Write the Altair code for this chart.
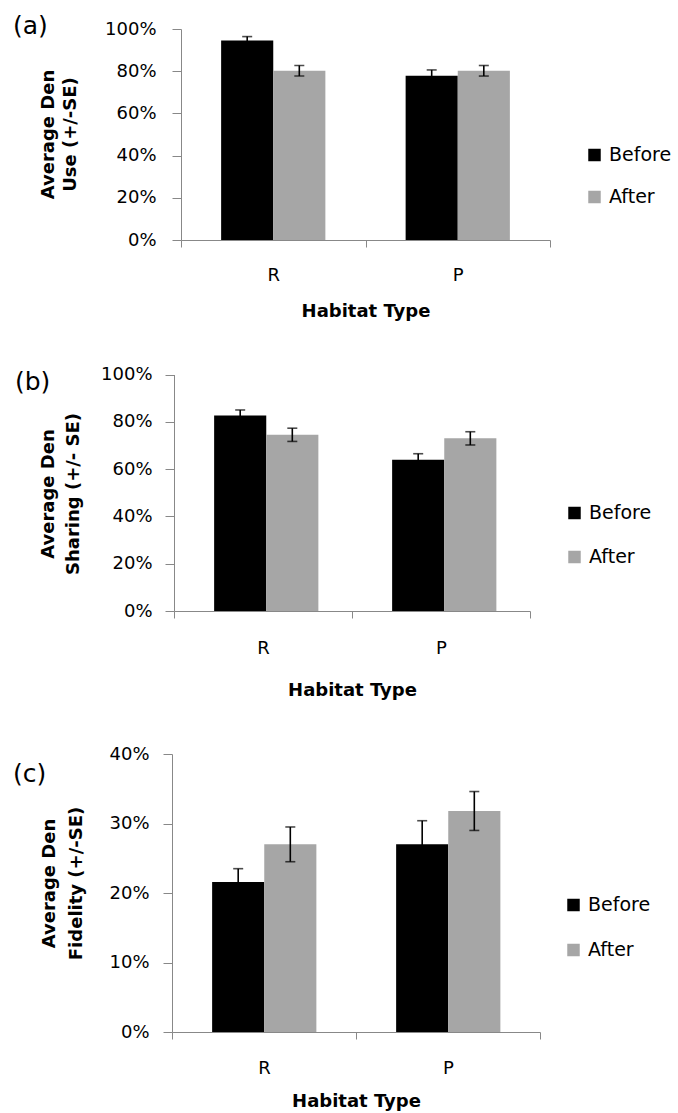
import altair as alt
import pandas as pd

# Categories
habitats = ["R", "P"]
periods = ["Before", "After"]

# Means and standard errors, ordered R-Before, R-After, P-Before, P-After
use_mean = [0.945, 0.802, 0.779, 0.802]
use_se = [0.019, 0.025, 0.027, 0.025]

share_mean = [0.827, 0.745, 0.640, 0.730]
share_se = [0.023, 0.028, 0.025, 0.028]

fid_mean = [0.216, 0.270, 0.270, 0.318]
fid_se = [0.019, 0.025, 0.034, 0.028]

# Text
panel_tags = ["(a)", "(b)", "(c)"]
y_titles = [
    ["Average Den", "Use (+/-SE)"],
    ["Average Den", "Sharing (+/- SE)"],
    ["Average Den", "Fidelity (+/-SE)"],
]
x_title = "Habitat Type"

FONT = "DejaVu Sans"
AXIS_GREY = "#868686"
BAR_COLORS = ["#000000", "#a6a6a6"]


def make_table(means, ses):
    rows = []
    i = 0
    for h in habitats:
        for p in periods:
            rows.append({
                "habitat": h,
                "period": p,
                "mean": means[i],
                "lo": means[i] - ses[i],
                "hi": means[i] + ses[i],
            })
            i += 1
    return pd.DataFrame(rows)


def panel(df, tag, ytitle, ymax, ystep, w, h, x_range, y_range, y_offset,
          pad_outer, legend_x, legend_y, row_pad, tag_x, tag_y,
          ytitle_x, ytitle_y, ytitle_lh, ylabel_pad, xlabel_pad, xtitle_y):
    ticks = [round(ystep * k, 3) for k in range(int(round(ymax / ystep)) + 1)]
    yscale = alt.Scale(domain=[0, ymax], nice=False, zero=True, range=y_range)
    yaxis = alt.Axis(
        values=ticks, format=".0%", title=ytitle, grid=False, offset=y_offset,
        tickSize=9, labelPadding=ylabel_pad, labelFontSize=18,
        titleFontSize=18, titleFontWeight="bold", titleAngle=270,
        titleX=ytitle_x, titleY=ytitle_y, titleAlign="center",
        titleBaseline="alphabetic", titleLineHeight=ytitle_lh,
    )
    x = alt.X(
        "habitat:N", sort=habitats, title=x_title,
        scale=alt.Scale(paddingInner=0, paddingOuter=0, range=x_range),
        axis=alt.Axis(
            tickBand="extent", tickSize=7, labelAngle=0, grid=False,
            labelBaseline="alphabetic", labelPadding=xlabel_pad,
            labelFontSize=18, titleFontSize=18, titleFontWeight="bold",
            titleY=xtitle_y, titleBaseline="alphabetic",
        ),
    )
    xo = alt.XOffset(
        "period:N", sort=periods,
        scale=alt.Scale(paddingInner=0, paddingOuter=pad_outer),
    )
    color = alt.Color(
        "period:N", sort=periods,
        scale=alt.Scale(domain=periods, range=BAR_COLORS),
        legend=alt.Legend(
            orient="none", legendX=legend_x, legendY=legend_y, title=None,
            symbolType="square", symbolSize=156, symbolStrokeWidth=0,
            symbolOpacity=1, labelFontSize=19, labelFont=FONT,
            labelOffset=5, rowPadding=row_pad, padding=0,
        ),
    )

    base = alt.Chart(df).encode(x=x, xOffset=xo)
    bars = base.mark_bar().encode(
        y=alt.Y("mean:Q", scale=yscale, axis=yaxis), color=color
    )
    stems = base.mark_rule(color="black", strokeWidth=1.6).encode(
        y=alt.Y("lo:Q", scale=yscale, axis=yaxis), y2="hi:Q"
    )
    caps_hi = base.mark_tick(color="black", thickness=1.6, size=10).encode(
        y=alt.Y("hi:Q", scale=yscale, axis=yaxis)
    )
    caps_lo = base.mark_tick(color="black", thickness=1.6, size=10).encode(
        y=alt.Y("lo:Q", scale=yscale, axis=yaxis)
    )
    label = alt.Chart(pd.DataFrame({"tag": [tag]})).mark_text(
        align="left", baseline="alphabetic", font=FONT, fontSize=25,
        color="black",
    ).encode(text="tag:N", x=alt.value(tag_x), y=alt.value(tag_y))

    return alt.layer(bars, stems, caps_hi, caps_lo, label).properties(
        width=w, height=h,
        view=alt.ViewBackground(stroke="transparent", strokeWidth=0),
    )


panel_a = panel(
    make_table(use_mean, use_se), panel_tags[0], y_titles[0], 1.0, 0.2,
    w=378, h=211, x_range=[9, 378], y_range=[211, 0], y_offset=-9,
    pad_outer=0.77, legend_x=413, legend_y=116.5, row_pad=22,
    tag_x=-159, tag_y=4.5,
    ytitle_x=-127.5, ytitle_y=105, ytitle_lh=21.5, ylabel_pad=16,
    xlabel_pad=33, xtitle_y=76,
)
panel_b = panel(
    make_table(share_mean, share_se), panel_tags[1], y_titles[1], 1.0, 0.2,
    w=358, h=245, x_range=[2, 358], y_range=[245, 8.5], y_offset=-2,
    pad_outer=0.745, legend_x=393, legend_y=137.5, row_pad=24,
    tag_x=-157, tag_y=24,
    ytitle_x=-121, ytitle_y=127.5, ytitle_lh=25, ylabel_pad=13,
    xlabel_pad=35, xtitle_y=84,
)
panel_c = panel(
    make_table(fid_mean, fid_se), panel_tags[2], y_titles[2], 0.4, 0.1,
    w=368, h=295, x_range=[0, 368], y_range=[295, 17], y_offset=0,
    pad_outer=0.75, legend_x=392, legend_y=158.5, row_pad=25,
    tag_x=-159, tag_y=45,
    ytitle_x=-118, ytitle_y=146, ytitle_lh=27, ylabel_pad=14,
    xlabel_pad=34, xtitle_y=74,
)

chart = alt.vconcat(
    panel_a, panel_b, panel_c, spacing=126, bounds="flush"
).resolve_scale(
    color="independent"
).properties(
    autosize=alt.AutoSizeParams(type="none"),
    padding={"left": 172, "top": 29, "right": 506, "bottom": 1084},
).configure_view(
    stroke="transparent", strokeWidth=0
).configure_axis(
    domainColor=AXIS_GREY, tickColor=AXIS_GREY, domainWidth=1.2,
    tickWidth=1.2, labelFont=FONT, titleFont=FONT, labelColor="black",
    titleColor="black",
).configure(
    font=FONT, background="white"
)

chart.save("out.html", embed_options={"renderer": "svg", "actions": False})
